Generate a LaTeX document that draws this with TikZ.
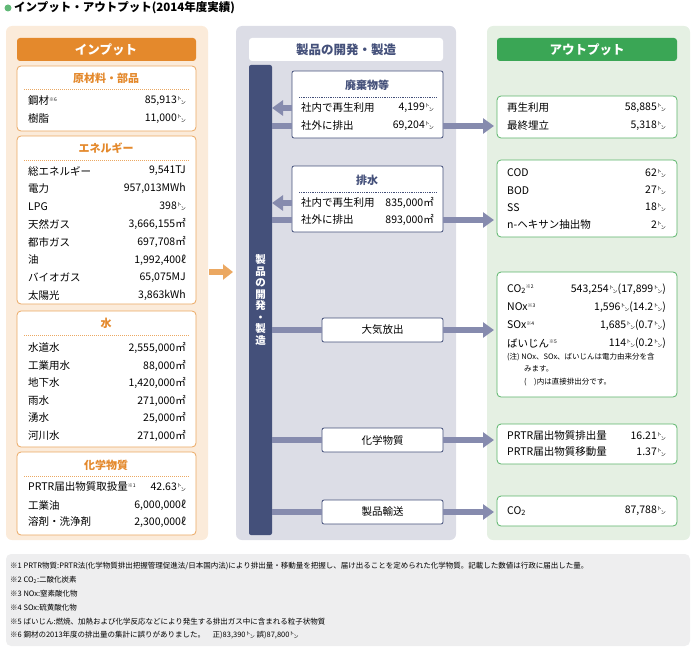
\documentclass[tikz,border=0pt]{standalone}
\usepackage{fontspec}
\setmainfont{Noto Sans CJK JP}
\usetikzlibrary{arrows.meta}
\definecolor{peach}{HTML}{FBEBDA}
\definecolor{orng}{HTML}{E4892C}
\definecolor{orngline}{HTML}{EBA862}
\definecolor{navy}{HTML}{44507A}
\definecolor{midbg}{HTML}{DCDDE6}
\definecolor{flowc}{HTML}{868BAE}
\definecolor{grn}{HTML}{3AA655}
\definecolor{grnbg}{HTML}{E5F0E3}
\definecolor{grnline}{HTML}{5CB56B}
\definecolor{notebg}{HTML}{EEEEEF}
\newcommand\tn{\raisebox{0.55ex}{\fontsize{5}{5}\selectfont ト}\kern-0.1em\raisebox{-0.15ex}{\fontsize{5}{5}\selectfont ン}}
\newcommand\kome[1]{\raisebox{0.6ex}{\fontsize{5}{5}\selectfont ※#1}}
\tikzset{
  txt/.style={anchor=west, inner sep=0, font=\fontsize{10.5}{11}\selectfont},
  val/.style={anchor=east, inner sep=0, font=\fontsize{10.5}{11}\selectfont},
  inbox/.style={draw=orngline, fill=white, rounded corners=4pt, line width=0.8pt},
  midbox/.style={draw=navy, fill=white, rounded corners=2pt, line width=0.8pt},
  outbox/.style={draw=grnline, fill=white, rounded corners=4pt, line width=0.8pt},
  ititle/.style={font=\bfseries\fontsize{11}{12}\selectfont, text=orng},
  mtitle/.style={font=\bfseries\fontsize{11}{12}\selectfont, text=navy},
  flow/.style={flowc, line width=6pt, -{Triangle[width=15pt,length=11pt]}},
  flat/.style={flowc, line width=6pt},
  note/.style={anchor=west, inner sep=0, font=\fontsize{7.5}{8}\selectfont}
}
\begin{document}
\begin{tikzpicture}[x=1pt, y=-1pt]
  \useasboundingbox (0,0) rectangle (700,650);

  % title
  \fill[grn!80] (8,8) circle (3.5);
  \node[anchor=west, inner sep=0, font=\bfseries\fontsize{11.5}{12}\selectfont] (title) at (14,8)
    {インプット・アウトプット(2014年度実績)};

  % panels
  \fill[peach, rounded corners=6pt] (6,26) rectangle (208,540);
  \fill[midbg, rounded corners=6pt] (236,26) rectangle (456,540);
  \fill[grnbg, rounded corners=6pt] (487,26) rectangle (690,540);
  \fill[notebg, rounded corners=5pt] (6,554) rectangle (690,646);

  % headers
  \fill[orng, rounded corners=3pt] (17,38) rectangle (196,61);
  \node[font=\bfseries\fontsize{12.5}{13}\selectfont, text=white] (inhead) at (106,49.5) {インプット};
  \fill[white, rounded corners=3pt] (249,38) rectangle (443,61);
  \node[mtitle, font=\bfseries\fontsize{12.5}{13}\selectfont] (midhead) at (346,49.5) {製品の開発・製造};
  \fill[grn, rounded corners=3pt] (497,38) rectangle (677,61);
  \node[font=\bfseries\fontsize{12.5}{13}\selectfont, text=white] (outhead) at (587,49.5) {アウトプット};

  % input boxes
  \draw[inbox] (17,66) rectangle (196,131);
  \node[ititle] (mat) at (106,78) {原材料・部品};
  \draw[orngline, densely dotted, line width=1pt] (24,90) -- (189,90);
  \node[txt] at (28,101) {鋼材\kome{6}};
  \node[val] at (186,101) {85,913\tn};
  \node[txt] at (28,119) {樹脂};
  \node[val] at (186,119) {11,000\tn};

  \draw[inbox] (17,136) rectangle (196,304);
  \node[ititle] (ene) at (106,148) {エネルギー};
  \draw[orngline, densely dotted, line width=1pt] (24,160) -- (189,160);
  \foreach \a/\b [count=\i from 0] in {総エネルギー/9{,}541TJ, 電力/957{,}013MWh, LPG/398\tn,
      天然ガス/3{,}666{,}155㎡, 都市ガス/697{,}708㎡, 油/1{,}992{,}400ℓ,
      バイオガス/65{,}075MJ, 太陽光/3{,}863kWh}{
    \node[txt] at (28,171+17.8*\i) {\a};
    \node[val] at (186,171+17.8*\i) {\b};
  }

  \draw[inbox] (17,311) rectangle (196,447);
  \node[ititle] (wat) at (106,323) {水};
  \draw[orngline, densely dotted, line width=1pt] (24,335) -- (189,335);
  \foreach \a/\b [count=\i from 0] in {水道水/2{,}555{,}000㎡, 工業用水/88{,}000㎡,
      地下水/1{,}420{,}000㎡, 雨水/271{,}000㎡, 湧水/25{,}000㎡, 河川水/271{,}000㎡}{
    \node[txt] at (28,348+17.5*\i) {\a};
    \node[val] at (186,348+17.5*\i) {\b};
  }

  \draw[inbox] (17,452) rectangle (196,535);
  \node[ititle] (chem) at (106,465) {化学物質};
  \draw[orngline, densely dotted, line width=1pt] (24,476) -- (189,476);
  \node[txt] at (28,487) {PRTR届出物質取扱量\kome{1}};
  \node[val] at (186,487) {42.63\tn};
  \node[txt] at (28,505) {工業油};
  \node[val] at (186,505) {6,000,000ℓ};
  \node[txt] at (28,522) {溶剤・洗浄剤};
  \node[val] at (186,522) {2,300,000ℓ};

  % input arrow
  \coordinate (inA) at (209,272);
  \coordinate (inB) at (233,272);
  \draw[orngline, line width=6pt, -{Triangle[width=15pt,length=10pt]}] (inA) -- (inB);

  % process bar
  \fill[navy, rounded corners=2pt] (249,65) rectangle (272,535);
  \node[text=white, align=center, inner sep=0, font=\bfseries\fontsize{10.5}{11.5}\selectfont] (bar) at (260.5,300)
    {製\\品\\の\\開\\発\\・\\製\\造};

  % middle boxes
  \draw[midbox] (292,71) rectangle (443,138);
  \node[mtitle] (waste) at (367,85) {廃棄物等};
  \draw[navy, densely dotted, line width=0.8pt] (299,97) -- (436,97);
  \node[txt] at (301,108) {社内で再生利用};
  \node[val] at (434,108) {4,199\tn};
  \node[txt] at (301,126) {社外に排出};
  \node[val] at (434,126) {69,204\tn};

  \draw[midbox] (292,166) rectangle (443,232);
  \node[mtitle] (drain) at (367,180) {排水};
  \draw[navy, densely dotted, line width=0.8pt] (299,192) -- (436,192);
  \node[txt] at (301,203) {社内で再生利用};
  \node[val] at (434,203) {835,000㎡};
  \node[txt] at (301,220) {社外に排出};
  \node[val] at (434,220) {893,000㎡};

  \node[midbox, minimum width=121pt, minimum height=24pt, font=\fontsize{10.5}{11}\selectfont] (air) at (382.5,330) {大気放出};
  \node[midbox, minimum width=121pt, minimum height=24pt, font=\fontsize{10.5}{11}\selectfont] (chm) at (382.5,440) {化学物質};
  \node[midbox, minimum width=121pt, minimum height=24pt, font=\fontsize{10.5}{11}\selectfont] (ship) at (382.5,512) {製品輸送};

  % output boxes
  \draw[outbox] (497,96) rectangle (677,138);
  \node[txt] at (507,108) {再生利用};
  \node[val] at (666,108) {58,885\tn};
  \node[txt] at (507,126) {最終埋立};
  \node[val] at (666,126) {5,318\tn};

  \draw[outbox] (497,160) rectangle (677,237);
  \foreach \a/\b [count=\i from 0] in {COD/62\tn, BOD/27\tn, SS/18\tn, n-ヘキサン抽出物/2\tn}{
    \node[txt] at (507,173+17.3*\i) {\a};
    \node[val] at (666,173+17.3*\i) {\b};
  }

  \draw[outbox] (497,272) rectangle (677,397);
  \node[txt] at (507,289) {CO\textsubscript{2}\kome{2}};
  \node[val] at (666,289) {543,254\tn(17,899\tn)};
  \node[txt] at (507,307) {NOx\kome{3}};
  \node[val] at (666,307) {1,596\tn(14.2\tn)};
  \node[txt] at (507,325) {SOx\kome{4}};
  \node[val] at (666,325) {1,685\tn(0.7\tn)};
  \node[txt] at (507,343) {ばいじん\kome{5}};
  \node[val] at (666,343) {114\tn(0.2\tn)};
  \node[note] at (507,357) {(注)\ NOx、SOx、ばいじんは電力由来分を含};
  \node[note] at (524,369) {みます。};
  \node[note] at (524,382) {(\quad)内は直接排出分です。};

  \draw[outbox] (497,424) rectangle (677,464);
  \node[txt] at (507,436) {PRTR届出物質排出量};
  \node[val] at (666,436) {16.21\tn};
  \node[txt] at (507,452) {PRTR届出物質移動量};
  \node[val] at (666,452) {1.37\tn};

  \draw[outbox] (497,496) rectangle (677,526);
  \node[txt] at (507,511) {CO\textsubscript{2}};
  \node[val] at (666,511) {87,788\tn};

  % flows
  \coordinate (barR) at (272,0);
  \coordinate (outL) at (494,0);
  \coordinate (wasteL) at (292,108);
  \coordinate (drainL) at (292,203);
  \draw[flow] (wasteL) -- (barR |- wasteL);
  \draw[flat] (barR |- 0,126) -- (292,126);
  \draw[flow] (443,126) -- (outL |- 0,126);
  \draw[flow] (drainL) -- (barR |- drainL);
  \draw[flat] (barR |- 0,220) -- (292,220);
  \draw[flow] (443,220) -- (outL |- 0,220);
  \draw[flat] (barR |- air) -- (air.west);
  \draw[flow] (air.east) -- (outL |- air);
  \draw[flat] (barR |- chm) -- (chm.west);
  \draw[flow] (chm.east) -- (outL |- chm);
  \draw[flat] (barR |- ship) -- (ship.west);
  \draw[flow] (ship.east) -- (outL |- ship);

  % footnotes
  \foreach \t [count=\i from 0] in {
      {※1 PRTR物質:PRTR法(化学物質排出把握管理促進法/日本国内法)により排出量・移動量を把握し、届け出ることを定められた化学物質。記載した数値は行政に届出した量。},
      {※2 CO\textsubscript{2}:二酸化炭素},
      {※3 NOx:窒素酸化物},
      {※4 SOx:硫黄酸化物},
      {※5 ばいじん:燃焼、加熱および化学反応などにより発生する排出ガス中に含まれる粒子状物質},
      {※6 鋼材の2013年度の排出量の集計に誤りがありました。\quad 正)83,390\tn\ 誤)87,800\tn}}{
    \node[note] at (10,566+13.8*\i) {\t};
  }
\end{tikzpicture}
\end{document}
